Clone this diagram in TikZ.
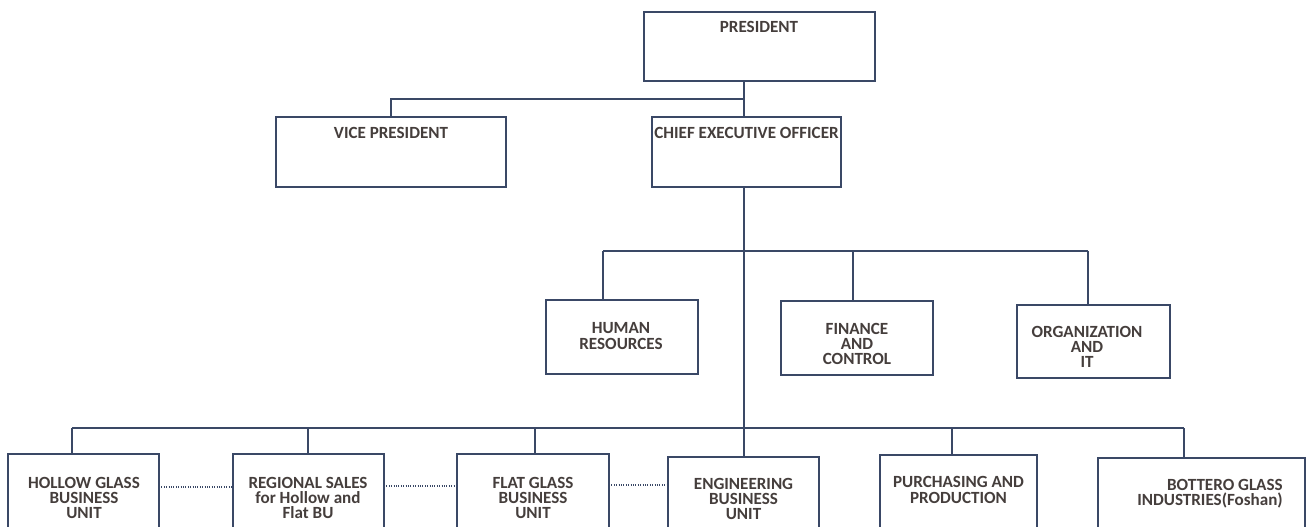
\documentclass[tikz,border=0pt]{standalone}
\usepackage{fontspec}
\setmainfont{Carlito}
\definecolor{lc}{HTML}{3A4866}
\definecolor{tc}{HTML}{453E3C}
\begin{document}
\begin{tikzpicture}[x=0.75pt,y=-0.75pt,
  box/.style={draw=lc, line width=1.1pt, inner sep=0pt, outer sep=0pt, fill=none},
  lbl/.style={text=tc, font=\fontsize{12.8}{11.4}\selectfont\bfseries, align=center, inner sep=0pt},
  conn/.style={draw=lc, line width=1.1pt},
  dot/.style={draw=lc, line width=0.8pt, densely dotted}]
\useasboundingbox (0,0) rectangle (1314,527);
\clip (0,0) rectangle (1314,527);
\fill[white] (0,0) rectangle (1314,527);
% boxes
\node[box, minimum width=173.25pt, minimum height=51.75pt] (pres) at (759.5,46.5) {};
\node[box, minimum width=172.5pt, minimum height=52.5pt] (vp) at (391,152) {};
\node[box, minimum width=141.75pt, minimum height=52.5pt] (ceo) at (746.5,152) {};
\node[box, minimum width=114pt, minimum height=55.5pt] (hr) at (622,337) {};
\node[box, minimum width=114pt, minimum height=55.5pt] (fin) at (857,338) {};
\node[box, minimum width=114.75pt, minimum height=54.75pt] (org) at (1093.5,341.5) {};
\node[box, minimum width=113.25pt, minimum height=79.5pt] (hol) at (83.5,507) {};
\node[box, minimum width=113.25pt, minimum height=79.5pt] (reg) at (308.5,507) {};
\node[box, minimum width=114pt, minimum height=79.5pt] (flat) at (533,507) {};
\node[box, minimum width=113.25pt, minimum height=77.25pt] (eng) at (743.5,508.5) {};
\node[box, minimum width=117.75pt, minimum height=78.75pt] (pur) at (958.5,507.5) {};
\node[box, minimum width=155.25pt, minimum height=76.5pt] (bot) at (1201.5,509) {};
% labels
\node[lbl] (presT) at (759,27) {PRESIDENT};
\node[lbl] (vpT) at (391,133) {VICE PRESIDENT};
\node[lbl] (ceoT) at (746.5,133) {CHIEF EXECUTIVE OFFICER};
\node[lbl] (hrT) at (621,336) {HUMAN\\RESOURCES};
\node[lbl] (finT) at (857,344) {FINANCE\\AND\\CONTROL};
\node[lbl] (orgT) at (1087,347) {ORGANIZATION\\AND\\IT};
\node[lbl] (holT) at (84,498) {HOLLOW GLASS\\BUSINESS\\UNIT};
\node[lbl] (regT) at (308,498) {REGIONAL SALES\\for Hollow and\\Flat BU};
\node[lbl] (flatT) at (533,498) {FLAT GLASS\\BUSINESS\\UNIT};
\node[lbl] (engT) at (743.5,499) {ENGINEERING\\BUSINESS\\UNIT};
\node[lbl] (purT) at (958.5,490) {PURCHASING AND\\PRODUCTION};
\node[lbl, align=right] (botT) at (1210,494) {BOTTERO GLASS\\INDUSTRIES(Foshan)};
% bus coordinates
\coordinate (b1) at (744,99);
\coordinate (b2) at (744,251);
\coordinate (b3) at (744,428);
% connectors
\draw[conn] (b1 |- pres.south) -- (b1) -- (b1 -| vp.north) -- (vp.north);
\draw[conn] (b1) -- (b1 |- ceo.north);
\draw[conn] (b1 |- ceo.south) -- (b1 |- eng.north);
\draw[conn] (603,251) coordinate (hrJ) -- (1088,251) coordinate (orgJ);
\draw[conn] (hrJ) -- (hrJ |- hr.north);
\draw[conn] (853,251) coordinate (finJ) -- (finJ |- fin.north);
\draw[conn] (orgJ) -- (orgJ |- org.north);
\draw[conn] (72,428) coordinate (holJ) -- (1184,428) coordinate (botJ);
\draw[conn] (holJ) -- (holJ |- hol.north);
\draw[conn] (308,428) coordinate (regJ) -- (regJ |- reg.north);
\draw[conn] (535,428) coordinate (flatJ) -- (flatJ |- flat.north);
\draw[conn] (952,428) coordinate (purJ) -- (purJ |- pur.north);
\draw[conn] (botJ) -- (botJ |- bot.north);
% dotted links
\draw[dot] (hol.east |- 0,487) -- (reg.west |- 0,487);
\draw[dot] (reg.east |- 0,486) -- (flat.west |- 0,486);
\draw[dot] (flat.east |- 0,485) -- (eng.west |- 0,485);
\end{tikzpicture}
\end{document}
